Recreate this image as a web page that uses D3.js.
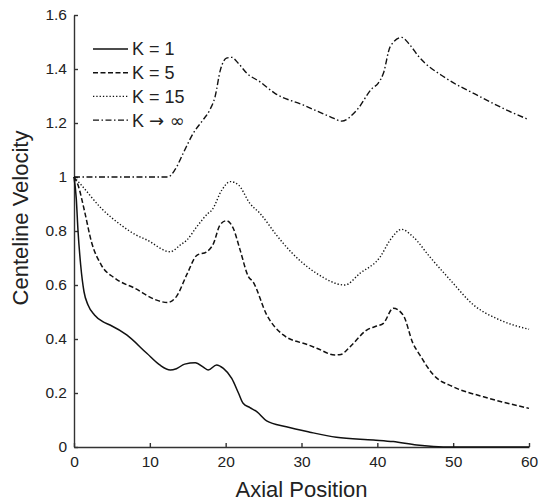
<!DOCTYPE html>
<html lang="en">
<head>
<meta charset="UTF-8">
<title>centerline velocity</title>
<script src="https://cdn.jsdelivr.net/npm/d3@7"></script>
<style>
    body { margin: 0; background: #fff; }
    svg text { font-family: "Liberation Sans", Arial, sans-serif; fill: #222; }
    .axis path, .axis line { stroke: #333; stroke-width: 1.4; }
    .axis text { font-size: 15.5px; }
    .curve { fill: none; stroke: #111; }
    .sym { font-family: "DejaVu Sans", sans-serif; }
</style>
</head>
<body>
<div id="chart"></div>
<script>

var k1X = [0, 0.3, 0.53, 0.88, 1.32, 1.85, 2.7, 3.8, 4.75, 6.95, 9.6, 11.3, 12.7, 13.5, 14.6, 16.0, 17.1, 17.7, 18.8, 19.7, 20.8, 21.7, 22.3, 23.2, 24.1, 25.4, 28.0, 31.1, 34.6, 39.5, 42.1, 45.2, 47.4, 50, 60];
var k1V = [1, 0.92, 0.8, 0.674, 0.575, 0.526, 0.489, 0.464, 0.452, 0.415, 0.347, 0.304, 0.285, 0.29, 0.307, 0.312, 0.295, 0.285, 0.304, 0.291, 0.254, 0.199, 0.162, 0.146, 0.131, 0.097, 0.075, 0.055, 0.036, 0.026, 0.02, 0.007, 0.002, 0, 0];

var k5X = [0, 0.53, 1.4, 2.3, 3.6, 5.4, 8.0, 10.9, 12.3, 13.5, 14.9, 16.2, 17.5, 18.4, 19.25, 20.1, 21.0, 21.9, 23.0, 23.6, 25.4, 27.6, 30.9, 32, 34.4, 35.2, 36.4, 38.6, 39.9, 40.8, 42.1, 43.4, 44.7, 45.6, 47.4, 50, 54, 60];
var k5V = [1, 0.97, 0.872, 0.76, 0.674, 0.625, 0.588, 0.544, 0.535, 0.557, 0.64, 0.71, 0.723, 0.754, 0.822, 0.838, 0.81, 0.73, 0.631, 0.612, 0.49, 0.415, 0.378, 0.366, 0.341, 0.343, 0.371, 0.433, 0.448, 0.458, 0.514, 0.489, 0.384, 0.341, 0.267, 0.223, 0.186, 0.143];

var k15X = [0, 0.97, 3.6, 6.2, 8.2, 9.6, 12.7, 14.0, 14.9, 16.2, 17.7, 18.2, 19.5, 20.6, 21.7, 23.2, 24.5, 26.7, 27.6, 32, 35.7, 37.7, 40.4, 41.7, 43.2, 44.7, 46.9, 49.6, 52.7, 56.2, 60];
var k15V = [1, 0.97, 0.884, 0.822, 0.785, 0.767, 0.723, 0.748, 0.767, 0.816, 0.866, 0.878, 0.952, 0.983, 0.97, 0.902, 0.866, 0.785, 0.754, 0.643, 0.6, 0.643, 0.705, 0.767, 0.806, 0.779, 0.705, 0.619, 0.526, 0.47, 0.436];

var kInfX = [0, 12.4, 13.3, 14.4, 15.7, 17.0, 17.9, 18.6, 19.3, 20.1, 20.8, 21.7, 22.8, 24.5, 26.5, 30.2, 33.8, 35.3, 37.3, 39.3, 40.1, 40.8, 41.7, 43.2, 44.3, 45.4, 49.1, 53.1, 56.6, 60];
var kInfV = [1, 1, 1.026, 1.088, 1.161, 1.211, 1.248, 1.297, 1.396, 1.44, 1.443, 1.42, 1.384, 1.353, 1.31, 1.267, 1.223, 1.207, 1.248, 1.328, 1.347, 1.384, 1.483, 1.517, 1.489, 1.448, 1.365, 1.304, 1.254, 1.212];

// legend labels split as [text before symbol, symbol]
var labels = [["K = 1", ""], ["K = 5", ""], ["K = 15", ""], ["K ", "\u2192 \u221e"]];
var xTicks = [0, 10, 20, 30, 40, 50, 60];
var yTicks = [0, 0.2, 0.4, 0.6, 0.8, 1, 1.2, 1.4, 1.6];

var width = 542, height = 503;
var margin = {top: 15, right: 13, bottom: 56, left: 74};

var svg = d3.select("#chart").append("svg")
    .attr("width", width)
    .attr("height", height);

var x = d3.scaleLinear().domain([0, 60]).range([margin.left, width - margin.right]);
var y = d3.scaleLinear().domain([0, 1.6]).range([height - margin.bottom, margin.top]);

svg.append("g")
    .attr("class", "axis")
    .attr("transform", "translate(0," + y(0) + ")")
    .call(d3.axisBottom(x).tickValues(xTicks).tickSize(-4).tickSizeOuter(0).tickPadding(9).tickFormat(d3.format("d")));

svg.append("g")
    .attr("class", "axis")
    .attr("transform", "translate(" + x(0) + ",0)")
    .call(d3.axisLeft(y).tickValues(yTicks).tickSize(-4).tickSizeOuter(0).tickPadding(7).tickFormat(function(d) { return d3.format("")(+d.toFixed(1)); }));

svg.append("text")
    .attr("x", (x(0) + x(60)) / 2)
    .attr("y", 497)
    .attr("text-anchor", "middle")
    .style("font-size", "22px")
    .text("Axial Position");

svg.append("text")
    .attr("transform", "translate(28,218) rotate(-90)")
    .attr("text-anchor", "middle")
    .style("font-size", "22px")
    .text("Centeline Velocity");

var series = [
    {xs: k1X, vs: k1V, dash: null, w: 1.5},
    {xs: k5X, vs: k5V, dash: "5,2.5", w: 1.5},
    {xs: k15X, vs: k15V, dash: "1.3,2", w: 1.4},
    {xs: kInfX, vs: kInfV, dash: "6,2.5,1.5,2.5", w: 1.4}
];

var line = d3.line()
    .x(function(d) { return x(d[0]); })
    .y(function(d) { return y(d[1]); })
    .curve(d3.curveMonotoneX);

svg.append("g").selectAll("path")
    .data(series)
    .enter().append("path")
    .attr("class", "curve")
    .attr("stroke-width", function(d) { return d.w; })
    .attr("stroke-dasharray", function(d) { return d.dash; })
    .attr("d", function(d) { return line(d3.zip(d.xs, d.vs)); });

// legend
var legend = svg.append("g").selectAll("g")
    .data(series)
    .enter().append("g")
    .attr("transform", function(d, i) { return "translate(93," + (49 + i * 23.7) + ")"; });

legend.append("line")
    .attr("class", "curve")
    .attr("x1", 0).attr("x2", 35)
    .attr("stroke-width", function(d) { return d.w; })
    .attr("stroke-dasharray", function(d) { return d.dash; });

var lt = legend.append("text")
    .attr("x", 39)
    .attr("dy", "0.36em")
    .style("font-size", "18px");
lt.append("tspan").text(function(d, i) { return labels[i][0]; });
lt.append("tspan").attr("class", "sym").text(function(d, i) { return labels[i][1]; });

</script>
</body>
</html>
